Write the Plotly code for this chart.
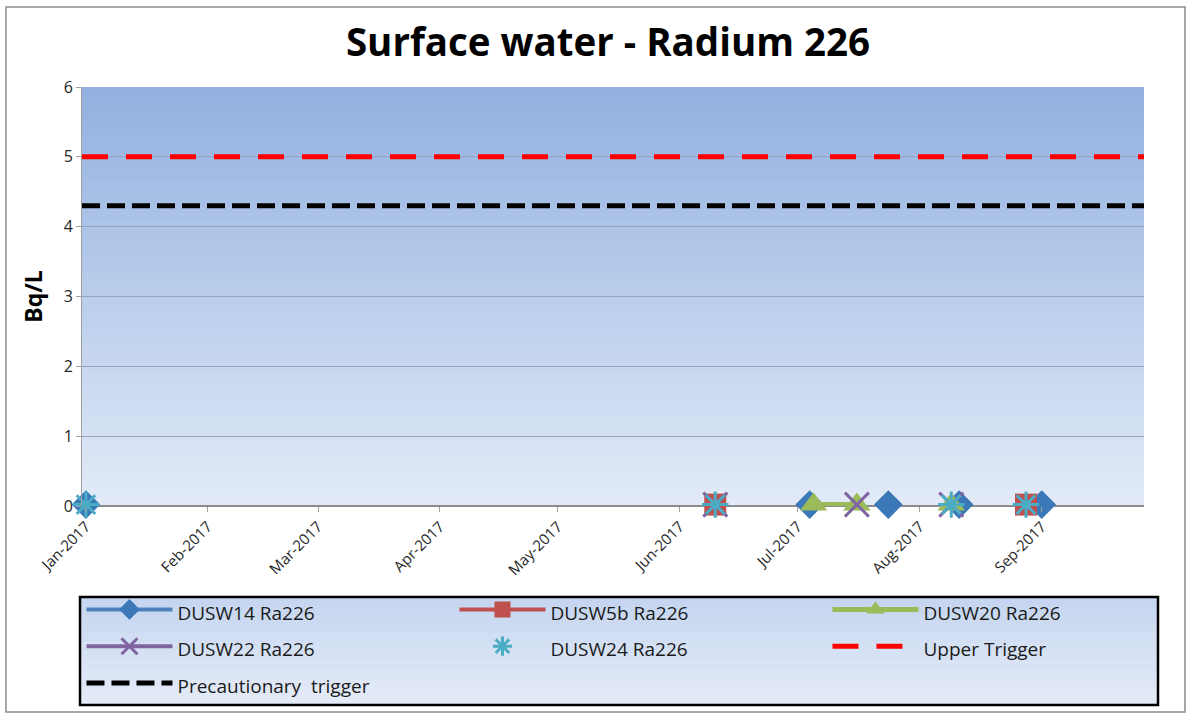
import plotly.graph_objects as go

# ---- Data ----
title_text = "Surface water - Radium 226"
y_title = "Bq/L"

dusw14_dates = ["2017-01-01", "2017-07-04", "2017-07-24", "2017-08-11", "2017-09-01"]
dusw14_vals = [0.02, 0.02, 0.02, 0.02, 0.02]

dusw5b_dates = ["2017-06-10", "2017-08-28"]
dusw5b_vals = [0.02, 0.02]

dusw20_dates = ["2017-07-05", "2017-07-16", "2017-08-09"]
dusw20_vals = [0.02, 0.02, 0.02]
dusw20_connected = [True, False]  # whether point i connects to point i+1

dusw22_dates = ["2017-06-10", "2017-07-16", "2017-08-09"]
dusw22_vals = [0.02, 0.02, 0.02]

dusw24_dates = ["2017-01-01", "2017-06-10", "2017-08-09", "2017-08-28"]
dusw24_vals = [0.02, 0.02, 0.02, 0.02]

trigger_dates = ["2016-12-31", "2017-09-27"]
upper_trigger = [5, 5]
precautionary_trigger = [4.3, 4.3]

x_range = ["2016-12-31", "2017-09-27"]
month_ticks = ["2017-01-01", "2017-02-01", "2017-03-01", "2017-04-01", "2017-05-01",
               "2017-06-01", "2017-07-01", "2017-08-01", "2017-09-01"]
month_labels = ["Jan-2017", "Feb-2017", "Mar-2017", "Apr-2017", "May-2017",
                "Jun-2017", "Jul-2017", "Aug-2017", "Sep-2017"]


def broken(dates, vals, connected=None):
    """Insert gaps so isolated samples are not joined by lines."""
    xs, ys = [], []
    for i, (d, v) in enumerate(zip(dates, vals)):
        xs.append(d)
        ys.append(v)
        if i < len(dates) - 1:
            if not (connected and connected[i]):
                xs.append(d)
                ys.append(None)
    return xs, ys


def lname(s):
    return "<span style='font-size:19px'>" + s + "</span>"


fig = go.Figure()

x, y = broken(dusw14_dates, dusw14_vals)
fig.add_trace(go.Scatter(x=x, y=y, mode="lines+markers", name=lname("DUSW14 Ra226"),
                         line=dict(color="#4f81bd", width=4), connectgaps=False, cliponaxis=False,
                         marker=dict(symbol="diamond", size=22, color="#3a78b8")))
x, y = broken(dusw5b_dates, dusw5b_vals)
fig.add_trace(go.Scatter(x=x, y=y, mode="lines+markers", name=lname("DUSW5b Ra226"),
                         line=dict(color="#c0504d", width=4), connectgaps=False, cliponaxis=False,
                         marker=dict(symbol="square", size=22, color="#c0504d")))
x, y = broken(dusw20_dates, dusw20_vals, dusw20_connected)
fig.add_trace(go.Scatter(x=x, y=y, mode="lines+markers", name=lname("DUSW20 Ra226"),
                         line=dict(color="#9bbb59", width=5), connectgaps=False, cliponaxis=False,
                         marker=dict(symbol="triangle-up", size=24, color="#9bbb59")))
x, y = broken(dusw22_dates, dusw22_vals)
fig.add_trace(go.Scatter(x=x, y=y, mode="lines+markers", name=lname("DUSW22 Ra226"),
                         line=dict(color="#8064a2", width=4), connectgaps=False, cliponaxis=False,
                         marker=dict(symbol="x-thin", size=24, color="#8064a2",
                                     line=dict(color="#8064a2", width=3))))
fig.add_trace(go.Scatter(x=dusw24_dates, y=dusw24_vals, mode="markers", name=lname("DUSW24 Ra226"),
                         cliponaxis=False,
                         marker=dict(symbol="asterisk", size=22, color="#4bacc6",
                                     line=dict(color="#4bacc6", width=3))))
fig.add_trace(go.Scatter(x=trigger_dates, y=upper_trigger, mode="lines", name=lname("Upper Trigger"),
                         line=dict(color="#ff0000", width=5, dash="26px,18px")))
fig.add_trace(go.Scatter(x=trigger_dates, y=precautionary_trigger, mode="lines",
                         name=lname("Precautionary  trigger"),
                         line=dict(color="#000000", width=5, dash="18px,7px")))

W, H = 1190, 717
L, R, T, B = 82, 46, 87, 211
pw, ph = W - L - R, H - T - B


def px_x(v):
    return (v - L) / pw


def px_y(v):
    return (H - B - v) / ph


shapes = []
# gradient background of the plot area
n = 50
top = (146, 177, 224)
bot = (226, 234, 247)
for i in range(n):
    t = i / (n - 1)
    c = tuple(round(top[k] + (bot[k] - top[k]) * t) for k in range(3))
    y1 = 1 - i / n
    y0 = max(0, 1 - (i + 1.6) / n)
    shapes.append(dict(type="rect", xref="x domain", yref="y domain",
                       x0=0, x1=1, y0=y0, y1=y1,
                       fillcolor="rgb(%d,%d,%d)" % c, line=dict(width=0), layer="below"))

# legend box (gradient fill + black border)
lb_x0, lb_x1, lb_y0, lb_y1 = 80, 1158, 597, 705
m = 12
ltop = (198, 214, 240)
lbot = (228, 235, 248)
for i in range(m):
    t = i / (m - 1)
    c = tuple(round(ltop[k] + (lbot[k] - ltop[k]) * t) for k in range(3))
    ya = lb_y0 + (lb_y1 - lb_y0) * i / m
    yb = min(lb_y1, lb_y0 + (lb_y1 - lb_y0) * (i + 1.5) / m)
    shapes.append(dict(type="rect", xref="paper", yref="paper",
                       x0=px_x(lb_x0), x1=px_x(lb_x1), y0=px_y(yb), y1=px_y(ya),
                       fillcolor="rgb(%d,%d,%d)" % c, line=dict(width=0), layer="below"))
shapes.append(dict(type="rect", xref="paper", yref="paper",
                   x0=px_x(lb_x0), x1=px_x(lb_x1), y0=px_y(lb_y1), y1=px_y(lb_y0),
                   line=dict(color="black", width=2.5), fillcolor="rgba(0,0,0,0)"))

# outer border
shapes.append(dict(type="rect", xref="paper", yref="paper",
                   x0=px_x(6), x1=px_x(1185), y0=px_y(712), y1=px_y(7),
                   line=dict(color="#8c8c8c", width=1.5), fillcolor="rgba(0,0,0,0)"))

fig.update_layout(
    width=W, height=H,
    margin=dict(l=L, r=R, t=T, b=B, autoexpand=False),
    paper_bgcolor="white",
    plot_bgcolor="rgba(0,0,0,0)",
    shapes=shapes,
    title=dict(text="<b>" + title_text + "</b>", x=px_x(608), xanchor="center",
               xref="paper", y=(H - 43) / H, yanchor="middle",
               font=dict(family="Open Sans", size=38.5, color="black")),
    font=dict(family="Open Sans", color="#262626"),
    xaxis=dict(type="date", range=x_range, tickvals=month_ticks, ticktext=month_labels,
               tickangle=-45, tickfont=dict(size=15, color="#262626"),
               showgrid=False, zeroline=False, showline=False,
               ticks="outside", ticklen=5, tickcolor="#a0a0a0"),
    yaxis=dict(range=[0, 6], dtick=1, tickfont=dict(size=16, color="#262626"),
               showgrid=True, gridcolor="#97a3b8", gridwidth=1.2,
               zeroline=True, zerolinecolor="#8c8c8c", zerolinewidth=1.5,
               showline=True, linecolor="#a0a0a0", linewidth=1,
               ticks="outside", ticklen=5, tickcolor="#a0a0a0",
               title=dict(text="<b>" + y_title + "</b>", font=dict(size=23, color="black"),
                          standoff=14)),
    legend=dict(orientation="h", x=-0.0005, xanchor="left",
                y=px_y(586), yanchor="top",
                entrywidth=272, entrywidthmode="pixels",
                bgcolor="rgba(0,0,0,0)", borderwidth=0,
                font=dict(size=26, color="#1a1a1a"), itemwidth=86,
                traceorder="normal"),
    showlegend=True,
)

fig.write_html("out.html", post_script="document.body.style.margin='0px';",
               config={"displayModeBar": False})
